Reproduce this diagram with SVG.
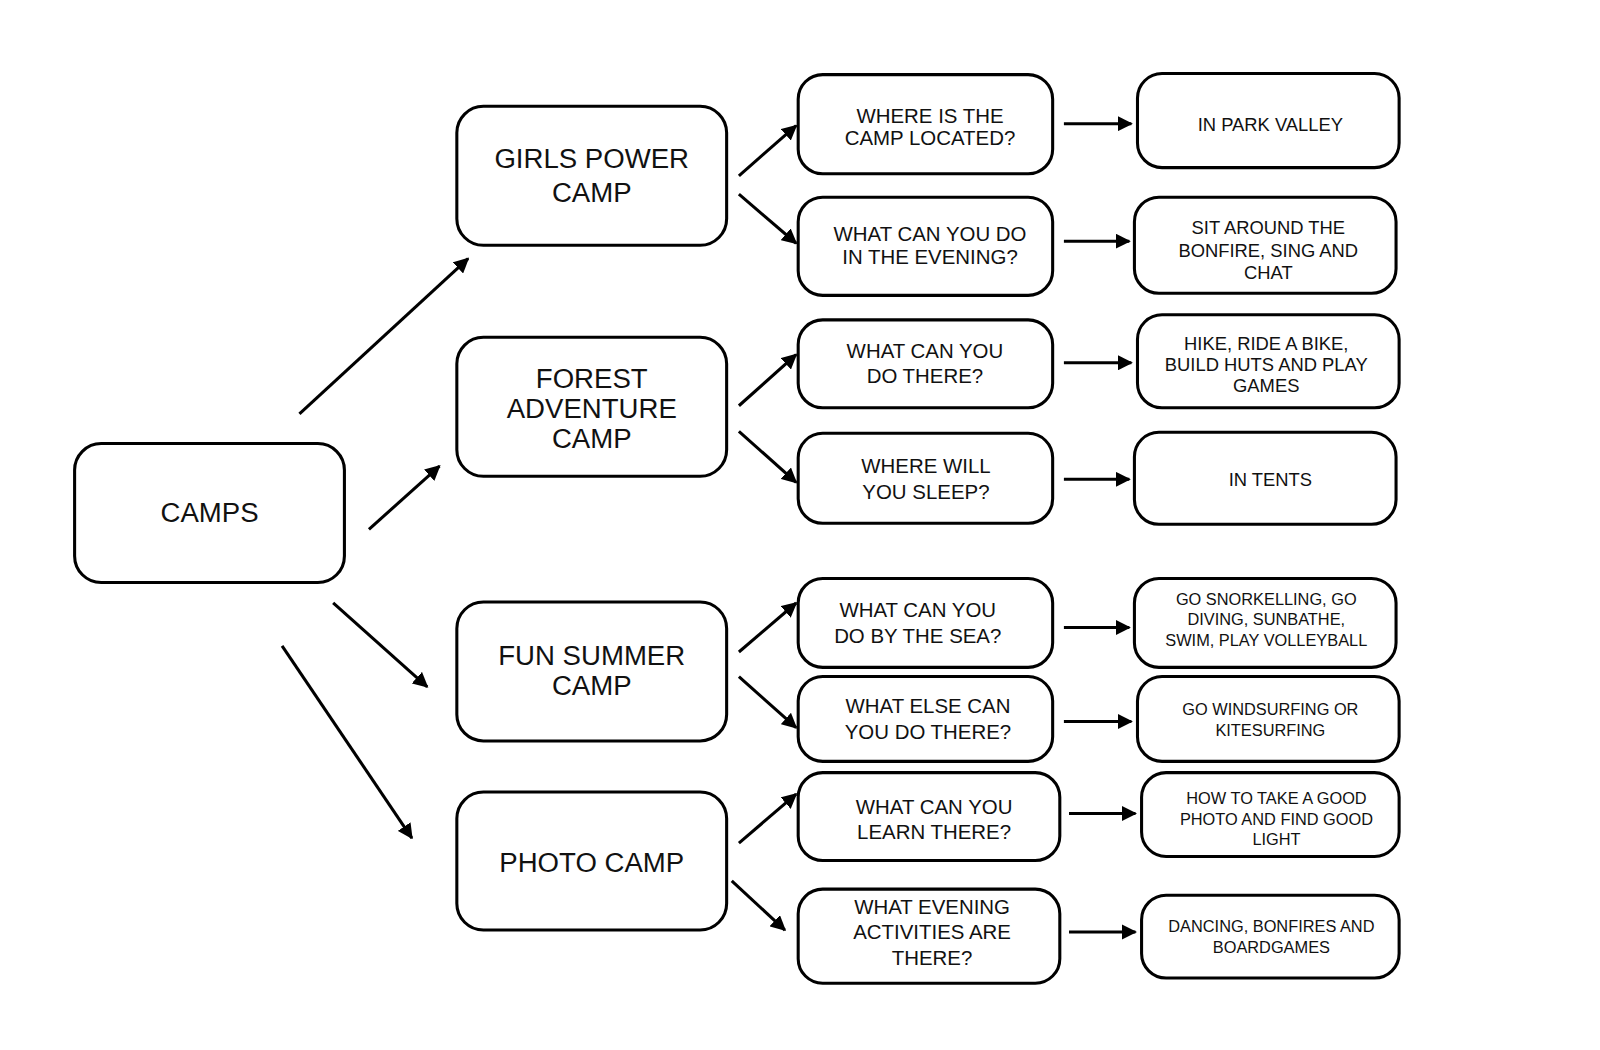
<svg xmlns="http://www.w3.org/2000/svg" width="1600" height="1050" viewBox="0 0 1600 1050">
<defs>
<marker id="ah" viewBox="0 0 10 10" refX="9" refY="5" markerWidth="5" markerHeight="5" orient="auto"><path d="M0,0 L10,5 L0,10 z" fill="#000"/></marker>
<style>
rect{fill:#fff;stroke:#000;stroke-width:3}
text{font-family:"Liberation Sans",Arial,sans-serif;text-anchor:middle;fill:#111}
.b{font-size:27px}.q{font-size:20px}.a{font-size:18px}.s{font-size:16px}
#connectors line{stroke:#000;stroke-width:3;marker-end:url(#ah)}
</style>
</defs>
<rect x="0" y="0" width="1600" height="1050" style="fill:#fff;stroke:none"/>
<g transform="scale(1.022)">
<g id="camps"><rect x="73" y="434" width="264" height="136" rx="26"/><text class="b" x="205" y="511">CAMPS</text></g>
<g id="girls"><rect x="447" y="104" width="264" height="136" rx="26"/><text class="b" x="579" y="164">GIRLS POWER</text><text class="b" x="579" y="198">CAMP</text></g>
<g id="forest"><rect x="447" y="330" width="264" height="136" rx="26"/><text class="b" x="579" y="380">FOREST</text><text class="b" x="579" y="409">ADVENTURE</text><text class="b" x="579" y="438">CAMP</text></g>
<g id="fun"><rect x="447" y="589" width="264" height="136" rx="26"/><text class="b" x="579" y="651">FUN SUMMER</text><text class="b" x="579" y="680">CAMP</text></g>
<g id="photo"><rect x="447" y="775" width="264" height="135" rx="26"/><text class="b" x="579" y="853">PHOTO CAMP</text></g>
<g id="q1"><rect x="781" y="73" width="249" height="97" rx="24"/><text class="q" x="910" y="120">WHERE IS THE</text><text class="q" x="910" y="142">CAMP LOCATED?</text></g>
<g id="q2"><rect x="781" y="193" width="249" height="96" rx="24"/><text class="q" x="910" y="236">WHAT CAN YOU DO</text><text class="q" x="910" y="258">IN THE EVENING?</text></g>
<g id="q3"><rect x="781" y="313" width="249" height="86" rx="24"/><text class="q" x="905" y="350">WHAT CAN YOU</text><text class="q" x="905" y="375">DO THERE?</text></g>
<g id="q4"><rect x="781" y="424" width="249" height="88" rx="24"/><text class="q" x="906" y="463">WHERE WILL</text><text class="q" x="906" y="488">YOU SLEEP?</text></g>
<g id="q5"><rect x="781" y="566" width="249" height="87" rx="24"/><text class="q" x="898" y="604">WHAT CAN YOU</text><text class="q" x="898" y="629">DO BY THE SEA?</text></g>
<g id="q6"><rect x="781" y="662" width="249" height="83" rx="24"/><text class="q" x="908" y="698">WHAT ELSE CAN</text><text class="q" x="908" y="723">YOU DO THERE?</text></g>
<g id="q7"><rect x="781" y="756" width="256" height="86" rx="24"/><text class="q" x="914" y="796">WHAT CAN YOU</text><text class="q" x="914" y="821">LEARN THERE?</text></g>
<g id="q8"><rect x="781" y="870" width="256" height="92" rx="24"/><text class="q" x="912" y="894">WHAT EVENING</text><text class="q" x="912" y="919">ACTIVITIES ARE</text><text class="q" x="912" y="944">THERE?</text></g>
<g id="a1"><rect x="1113" y="72" width="256" height="92" rx="24"/><text class="a" x="1243" y="128">IN PARK VALLEY</text></g>
<g id="a2"><rect x="1110" y="193" width="256" height="94" rx="24"/><text class="a" x="1241" y="229">SIT AROUND THE</text><text class="a" x="1241" y="251">BONFIRE, SING AND</text><text class="a" x="1241" y="273">CHAT</text></g>
<g id="a3"><rect x="1113" y="308" width="256" height="91" rx="24"/><text class="a" x="1239" y="342">HIKE, RIDE A BIKE,</text><text class="a" x="1239" y="363">BUILD HUTS AND PLAY</text><text class="a" x="1239" y="384">GAMES</text></g>
<g id="a4"><rect x="1110" y="423" width="256" height="90" rx="24"/><text class="a" x="1243" y="476">IN TENTS</text></g>
<g id="a5"><rect x="1110" y="566" width="256" height="87" rx="24"/><text class="s" x="1239" y="592">GO SNORKELLING, GO</text><text class="s" x="1239" y="612">DIVING, SUNBATHE,</text><text class="s" x="1239" y="632">SWIM, PLAY VOLLEYBALL</text></g>
<g id="a6"><rect x="1113" y="662" width="256" height="83" rx="24"/><text class="s" x="1243" y="700">GO WINDSURFING OR</text><text class="s" x="1243" y="720">KITESURFING</text></g>
<g id="a7"><rect x="1117" y="756" width="252" height="82" rx="24"/><text class="s" x="1249" y="787">HOW TO TAKE A GOOD</text><text class="s" x="1249" y="807">PHOTO AND FIND GOOD</text><text class="s" x="1249" y="827">LIGHT</text></g>
<g id="a8"><rect x="1117" y="876" width="252" height="81" rx="24"/><text class="s" x="1244" y="912">DANCING, BONFIRES AND</text><text class="s" x="1244" y="932">BOARDGAMES</text></g>
<g id="connectors">
<line x1="293" y1="405" x2="458" y2="253"/>
<line x1="361" y1="518" x2="430" y2="456"/>
<line x1="326" y1="590" x2="418" y2="672"/>
<line x1="276" y1="632" x2="403" y2="820"/>
<line x1="723" y1="172" x2="779" y2="123"/>
<line x1="723" y1="190" x2="779" y2="238"/>
<line x1="723" y1="397" x2="779" y2="347"/>
<line x1="723" y1="422" x2="779" y2="472"/>
<line x1="723" y1="638" x2="779" y2="590"/>
<line x1="723" y1="662" x2="779" y2="712"/>
<line x1="723" y1="825" x2="779" y2="777"/>
<line x1="716" y1="862" x2="768" y2="910"/>
<line x1="1041" y1="121" x2="1107" y2="121"/>
<line x1="1041" y1="236" x2="1105" y2="236"/>
<line x1="1041" y1="355" x2="1107" y2="355"/>
<line x1="1041" y1="469" x2="1105" y2="469"/>
<line x1="1041" y1="614" x2="1105" y2="614"/>
<line x1="1041" y1="706" x2="1107" y2="706"/>
<line x1="1046" y1="796" x2="1111" y2="796"/>
<line x1="1046" y1="912" x2="1111" y2="912"/>
</g>
</g>
</svg>
